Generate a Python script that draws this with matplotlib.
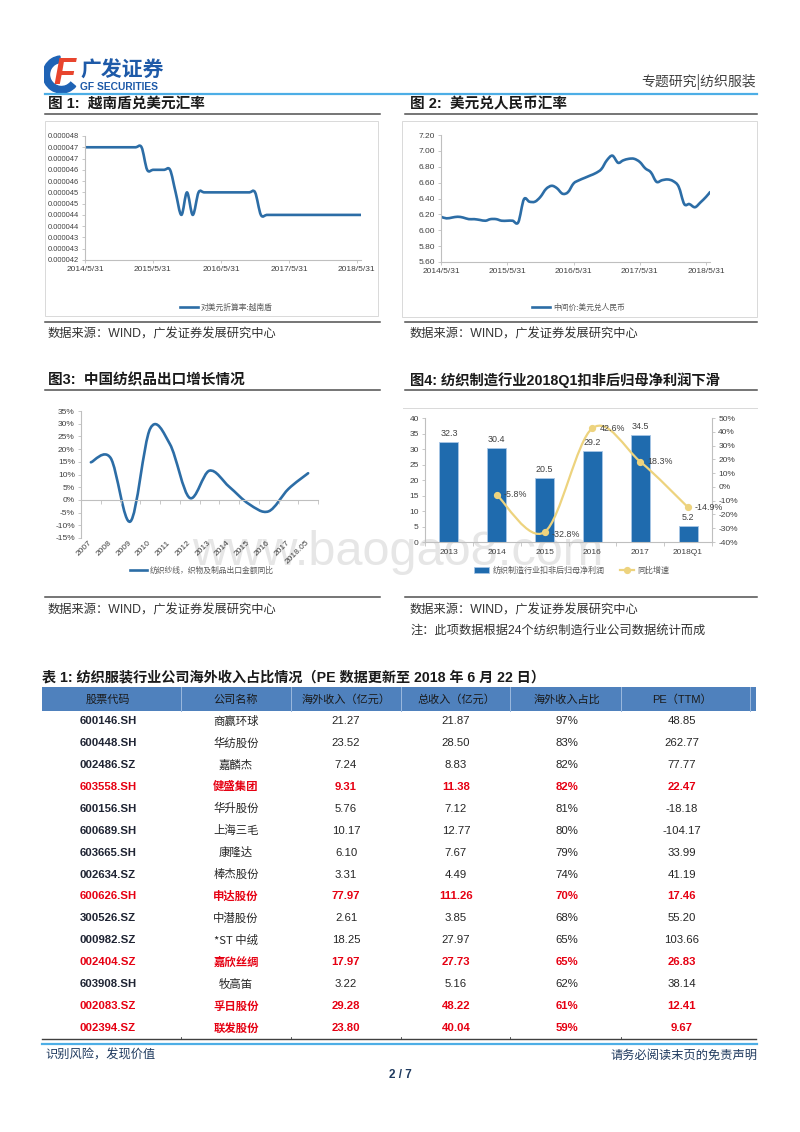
import numpy as np
import pandas as pd
import matplotlib
matplotlib.use('Agg')
import matplotlib.pyplot as plt
from matplotlib.path import Path
from matplotlib.patches import PathPatch, Rectangle, Wedge
from matplotlib.lines import Line2D
from matplotlib.ticker import FuncFormatter
import matplotlib.dates as mdates

plt.rcParams['font.family'] = ['Liberation Sans', 'Noto Sans CJK SC', 'DejaVu Sans']

# ---------------- data ----------------
# Fig 1: VND -> USD conversion rate, month ends May-2014 .. May-2018 plus 2018-06-22
vnd_usd = [4.70e-5, 4.70e-5, 4.70e-5, 4.70e-5, 4.70e-5, 4.70e-5, 4.70e-5, 4.70e-5,
           4.70e-5, 4.70e-5, 4.70e-5,
           4.60e-5, 4.60e-5, 4.60e-5, 4.60e-5, 4.60e-5,
           4.50e-5, 4.40e-5, 4.50e-5, 4.40e-5,
           4.50e-5, 4.50e-5, 4.50e-5, 4.50e-5, 4.50e-5, 4.50e-5, 4.50e-5, 4.50e-5,
           4.50e-5, 4.50e-5, 4.50e-5,
           4.40e-5, 4.40e-5, 4.40e-5, 4.40e-5, 4.40e-5, 4.40e-5, 4.40e-5, 4.40e-5,
           4.40e-5, 4.40e-5, 4.40e-5, 4.40e-5, 4.40e-5, 4.40e-5, 4.40e-5, 4.40e-5,
           4.40e-5, 4.40e-5, 4.40e-5]
vnd_ticklabels = ['0.000042', '0.000043', '0.000043', '0.000044', '0.000044', '0.000045',
                  '0.000045', '0.000046', '0.000046', '0.000047', '0.000047', '0.000048']
vnd_legend = '对美元折算率:越南盾'

# Fig 2: USD/CNY central parity, same dates
usd_cny = [6.17, 6.15, 6.16, 6.17, 6.16, 6.14, 6.14, 6.13, 6.12, 6.14,
           6.14, 6.12, 6.12, 6.12, 6.10, 6.39, 6.36, 6.36, 6.42, 6.52,
           6.56, 6.53, 6.46, 6.48, 6.59, 6.63, 6.66, 6.69, 6.72, 6.77,
           6.88, 6.94, 6.85, 6.88, 6.90, 6.90, 6.86, 6.78, 6.73, 6.61,
           6.63, 6.64, 6.62, 6.55, 6.33, 6.33, 6.29, 6.35, 6.42, 6.48]
cny_legend = '中间价:美元兑人民币'

date_tick_dates = ['2014-05-31', '2015-05-31', '2016-05-31', '2017-05-31', '2018-05-31']
date_tick_labels = ['2014/5/31', '2015/5/31', '2016/5/31', '2017/5/31', '2018/5/31']

# Fig 3: China textile export growth (%)
exp_years = ['2007', '2008', '2009', '2010', '2011', '2012', '2013', '2014',
             '2015', '2016', '2017', '2018.05']
exp_growth = [14.8, 16.5, -8.5, 28.0, 22.0, 0.8, 11.5, 5.2, -1.6, -4.5, 4.3, 10.5]
exp_legend = '纺织纱线，织物及制品出口金额同比'

# Fig 4: textile manufacturing net profit (bn yuan) and YoY growth (%)
prof_years = ['2013', '2014', '2015', '2016', '2017', '2018Q1']
prof_values = [32.3, 30.4, 20.5, 29.2, 34.5, 5.2]
growth_years = ['2014', '2015', '2016', '2017', '2018Q1']
growth_values = [-5.8, -32.8, 42.6, 18.3, -14.9]
prof_legend = '纺织制造行业扣非后归母净利润'
growth_legend = '同比增速'

# Table 1
tbl_header = ['股票代码', '公司名称', '海外收入（亿元）', '总收入（亿元）', '海外收入占比', 'PE（TTM）']
tbl_codes = ['600146.SH', '600448.SH', '002486.SZ', '603558.SH', '600156.SH', '600689.SH',
             '603665.SH', '002634.SZ', '600626.SH', '300526.SZ', '000982.SZ', '002404.SZ',
             '603908.SH', '002083.SZ', '002394.SZ']
tbl_names = ['商赢环球', '华纺股份', '嘉麟杰', '健盛集团', '华升股份', '上海三毛', '康隆达',
             '棒杰股份', '申达股份', '中潜股份', '*ST 中绒', '嘉欣丝绸', '牧高笛', '孚日股份',
             '联发股份']
tbl_overseas = [21.27, 23.52, 7.24, 9.31, 5.76, 10.17, 6.10, 3.31, 77.97, 2.61, 18.25,
                17.97, 3.22, 29.28, 23.80]
tbl_total = [21.87, 28.50, 8.83, 11.38, 7.12, 12.77, 7.67, 4.49, 111.26, 3.85, 27.97,
             27.73, 5.16, 48.22, 40.04]
tbl_share = ['97%', '83%', '82%', '82%', '81%', '80%', '79%', '74%', '70%', '68%', '65%',
             '65%', '62%', '61%', '59%']
tbl_pe = [48.85, 262.77, 77.77, 22.47, -18.18, -104.17, 33.99, 41.19, 17.46, 55.20, 103.66,
          26.83, 38.14, 12.41, 9.67]
tbl_highlight = [False, False, False, True, False, False, False, False, True, False, False,
                 True, False, True, True]

# ---------------- helpers ----------------
W, H = 800, 1132
fig = plt.figure(figsize=(8, 11.32), dpi=100)
fig.patch.set_facecolor('white')

CJK = ['Noto Sans CJK SC', 'DejaVu Sans']
MIX = ['Liberation Sans', 'Noto Sans CJK SC', 'DejaVu Sans']
LINE_BLUE = '#2C6DA6'
AX_GRAY = '#BFBFBF'
TICK_TXT = '#404040'
BAR_BLUE = '#1F6BAE'
GOLD = '#EDD37E'
NAVY = '#1F3A5F'
TICK_SIZE = 6


def fx(x):
    return x / W


def fy(y):
    return 1 - y / H


def add_axes(l, t, r, b):
    return fig.add_axes([fx(l), fy(b), (r - l) / W, (b - t) / H])


def hline(x0, x1, y, color, lw, z=2):
    fig.add_artist(Line2D([fx(x0), fx(x1)], [fy(y), fy(y)], color=color, lw=lw,
                          transform=fig.transFigure, zorder=z))


def vline(x, y0, y1, color, lw, z=2):
    fig.add_artist(Line2D([fx(x), fx(x)], [fy(y0), fy(y1)], color=color, lw=lw,
                          transform=fig.transFigure, zorder=z))


def frame(l, t, r, b, color='#D9D9D9', lw=0.7):
    fig.add_artist(Rectangle((fx(l), fy(b)), (r - l) / W, (b - t) / H, fill=False,
                             ec=color, lw=lw, transform=fig.transFigure))


def txt(x, y, s, **kw):
    kw.setdefault('va', 'center')
    kw.setdefault('family', MIX)
    return fig.text(fx(x), fy(y), s, **kw)


def smooth_path(x, y):
    x = np.asarray(x, float)
    y = np.asarray(y, float)
    n = len(x)
    verts = [(x[0], y[0])]
    codes = [Path.MOVETO]
    for i in range(n - 1):
        i0 = max(i - 1, 0)
        i3 = min(i + 2, n - 1)
        c1 = (x[i] + (x[i + 1] - x[i0]) / 6.0, y[i] + (y[i + 1] - y[i0]) / 6.0)
        c2 = (x[i + 1] - (x[i3] - x[i]) / 6.0, y[i + 1] - (y[i3] - y[i]) / 6.0)
        verts += [c1, c2, (x[i + 1], y[i + 1])]
        codes += [Path.CURVE4] * 3
    return Path(verts, codes)


def smooth_line(ax, x, y, **kw):
    p = PathPatch(smooth_path(x, y), fill=False, **kw)
    ax.add_patch(p)
    return p


def style_axes(ax):
    ax.set_facecolor('none')
    for s in ['top', 'right']:
        ax.spines[s].set_visible(False)
    for s in ['left', 'bottom']:
        ax.spines[s].set_color(AX_GRAY)
        ax.spines[s].set_linewidth(0.8)
    ax.tick_params(colors=AX_GRAY, labelcolor=TICK_TXT, labelsize=TICK_SIZE, length=2.5,
                   width=0.6, direction='out', pad=2)


def month_dates():
    try:
        d = pd.date_range('2014-05-31', '2018-05-31', freq='ME')
    except Exception:
        d = pd.date_range('2014-05-31', '2018-05-31', freq='M')
    return list(d) + [pd.Timestamp('2018-06-22')]


# ---------------- page header ----------------
logo = add_axes(44, 55, 80, 94)
logo.set_xlim(0, 36)
logo.set_ylim(0, 39)
logo.axis('off')
logo.add_patch(Wedge((17.5, 19.5), 18.5, 95, 320, width=6.5, color='#1F63B5'))
logo.text(20, 19, 'F', fontsize=26, fontweight='bold', style='italic', color='#E8452E',
          ha='center', va='center', family='Liberation Sans')
txt(80, 70, '广发证券', fontsize=15, fontweight='bold', color='#1E5AA8', family=CJK)
txt(80.5, 87.5, 'GF SECURITIES', fontsize=7.4, fontweight='bold', color='#1E5AA8')
txt(756, 82, '专题研究|纺织服装', fontsize=10, color='#404040', ha='right', family=CJK)
hline(45, 757, 94, '#4DAEE6', 1.6)

# ---------------- figure titles ----------------
TITLE_KW = dict(fontsize=10.5, fontweight='bold', color='#1a1a1a')
txt(48, 104, '图 1:  越南盾兑美元汇率', **TITLE_KW)
txt(410, 104, '图 2:  美元兑人民币汇率', **TITLE_KW)
hline(45, 380, 114, '#505050', 1.1)
hline(405, 757, 114, '#505050', 1.1)
frame(45, 121, 378, 316)
frame(402, 121, 757, 317)
hline(45, 380, 322, '#505050', 1.1)
hline(405, 757, 322, '#505050', 1.1)
SRC_KW = dict(fontsize=8.8, color='#333333')
txt(48, 334, '数据来源：WIND，广发证券发展研究中心', **SRC_KW)
txt(410, 334, '数据来源：WIND，广发证券发展研究中心', **SRC_KW)

txt(48, 380, '图3:  中国纺织品出口增长情况', **TITLE_KW)
txt(410, 380, '图4: 纺织制造行业2018Q1扣非后归母净利润下滑', fontsize=10.3,
    fontweight='bold', color='#1a1a1a')
hline(45, 380, 390, '#505050', 1.1)
hline(405, 757, 390, '#505050', 1.1)
hline(403, 757, 408, '#D9D9D9', 0.7)
hline(45, 380, 597, '#505050', 1.1)
hline(405, 757, 597, '#505050', 1.1)
txt(48, 610, '数据来源：WIND，广发证券发展研究中心', **SRC_KW)
txt(410, 610, '数据来源：WIND，广发证券发展研究中心', **SRC_KW)
txt(410, 632, '注：此项数据根据24个纺织制造行业公司数据统计而成', **SRC_KW)

# watermark
fig.text(fx(192), fy(565), 'www.baogao8.com', fontsize=35, color='#E6E6E6',
         family='Liberation Sans', va='baseline', ha='left', zorder=-1)

dates = month_dates()
xd = mdates.date2num(dates)
xt = mdates.date2num(pd.to_datetime(date_tick_dates))

# ---------------- chart 1 ----------------
ax1 = add_axes(85, 136, 361, 260)
style_axes(ax1)
smooth_line(ax1, xd, vnd_usd, ec=LINE_BLUE, lw=1.9, capstyle='round', joinstyle='round')
ax1.set_xlim(xd[0], xd[-1])
ax1.set_ylim(4.2e-5, 4.75e-5)
ax1.set_yticks(np.linspace(4.2e-5, 4.75e-5, len(vnd_ticklabels)))
ax1.set_yticklabels(vnd_ticklabels)
ax1.tick_params(axis='y', labelsize=5.4, pad=2)
ax1.set_xticks(xt)
ax1.set_xticklabels(date_tick_labels)
fig.legend(handles=[Line2D([], [], color=LINE_BLUE, lw=1.9)], labels=[vnd_legend],
           loc='center left', bbox_to_anchor=(fx(180), fy(308)), frameon=False,
           prop={'family': CJK, 'size': 5.6}, handlelength=2.3, handletextpad=0.4,
           borderpad=0, borderaxespad=0, labelcolor='#595959')

# ---------------- chart 2 ----------------
ax2 = add_axes(441, 135, 710, 262)
style_axes(ax2)
smooth_line(ax2, xd, usd_cny, ec=LINE_BLUE, lw=1.9, capstyle='round', joinstyle='round')
ax2.set_xlim(xd[0], xd[-1])
ax2.set_ylim(5.6, 7.2)
ax2.set_yticks(np.arange(5.6, 7.21, 0.2))
ax2.yaxis.set_major_formatter(FuncFormatter(lambda v, p: f'{v:.2f}'))
ax2.set_xticks(xt)
ax2.set_xticklabels(date_tick_labels)
fig.legend(handles=[Line2D([], [], color=LINE_BLUE, lw=1.9)], labels=[cny_legend],
           loc='center left', bbox_to_anchor=(fx(532), fy(308)), frameon=False,
           prop={'family': CJK, 'size': 5.6}, handlelength=2.3, handletextpad=0.4,
           borderpad=0, borderaxespad=0, labelcolor='#595959')

# ---------------- chart 3 ----------------
ax3 = add_axes(81, 411, 318, 538)
style_axes(ax3)
xs3 = np.arange(len(exp_years))
smooth_line(ax3, xs3, exp_growth, ec=LINE_BLUE, lw=1.9, capstyle='round', joinstyle='round')
ax3.set_xlim(-0.5, len(exp_years) - 0.5)
ax3.set_ylim(-15, 35)
ax3.set_yticks(np.arange(-15, 36, 5))
ax3.yaxis.set_major_formatter(FuncFormatter(lambda v, p: f'{v:.0f}%'))
ax3.spines['bottom'].set_position(('data', 0))
ax3.set_xticks(xs3)
ax3.set_xticklabels(exp_years, rotation=45, ha='right', va='center', rotation_mode='anchor')
ax3.set_xticks(np.arange(-0.5, len(exp_years), 1), minor=True)
ax3.tick_params(axis='x', which='major', length=0, pad=30)
ax3.tick_params(axis='x', which='minor', length=3, color=AX_GRAY, width=0.6)
fig.legend(handles=[Line2D([], [], color=LINE_BLUE, lw=1.9)], labels=[exp_legend],
           loc='center left', bbox_to_anchor=(fx(130), fy(571)), frameon=False,
           prop={'family': CJK, 'size': 5.6}, handlelength=2.2, handletextpad=0.4,
           borderpad=0, borderaxespad=0, labelcolor='#595959')

# ---------------- chart 4 ----------------
ax4 = add_axes(425, 418, 712, 542)
style_axes(ax4)
xs4 = np.arange(len(prof_years))
ax4.bar(xs4, prof_values, width=0.4, color=BAR_BLUE, edgecolor='#A8C6E6', linewidth=0.6,
        zorder=2)
for xv, v in zip(xs4, prof_values):
    ax4.annotate(f'{v:.1f}', (xv, v), xytext=(0, 3), textcoords='offset points',
                 ha='center', va='bottom', fontsize=6.4, color='#404040')
ax4.set_xlim(-0.5, len(prof_years) - 0.5)
ax4.set_ylim(0, 40)
ax4.set_yticks(np.arange(0, 41, 5))
ax4.set_xticks(xs4)
ax4.set_xticklabels(prof_years)
ax4.set_xticks(np.arange(-0.5, len(prof_years), 1), minor=True)
ax4.tick_params(axis='x', which='major', length=0, pad=5)
ax4.tick_params(axis='x', which='minor', length=3, color=AX_GRAY, width=0.6)

ax4r = ax4.twinx()
ax4r.set_facecolor('none')
for s in ['top', 'left', 'bottom']:
    ax4r.spines[s].set_visible(False)
ax4r.spines['right'].set_color(AX_GRAY)
ax4r.spines['right'].set_linewidth(0.8)
ax4r.tick_params(colors=AX_GRAY, labelcolor=TICK_TXT, labelsize=TICK_SIZE, length=2.5,
                 width=0.6, direction='out', pad=2)
gx = [prof_years.index(g) for g in growth_years]
smooth_line(ax4r, gx, growth_values, ec=GOLD, lw=1.6, zorder=3)
ax4r.plot(gx, growth_values, 'o', color=GOLD, ms=4.2, zorder=4)
for xv, v in zip(gx, growth_values):
    dy = -2 if v < -30 else 0
    ax4r.annotate(f'{v:.1f}%', (xv, v), xytext=(5, dy), textcoords='offset points',
                  ha='left', va='center', fontsize=6.4, color='#404040', zorder=5)
ax4r.set_ylim(-40, 50)
ax4r.set_yticks(np.arange(-40, 51, 10))
ax4r.yaxis.set_major_formatter(FuncFormatter(lambda v, p: f'{v:.0f}%'))
ax4r.set_xlim(-0.5, len(prof_years) - 0.5)

fig.legend(handles=[Rectangle((0, 0), 1, 1, fc=BAR_BLUE, ec='#A8C6E6', lw=0.5)],
           labels=[prof_legend], loc='center left', bbox_to_anchor=(fx(474), fy(570)),
           frameon=False, prop={'family': CJK, 'size': 5.8}, handlelength=1.9,
           handleheight=0.8, handletextpad=0.4, borderpad=0, borderaxespad=0,
           labelcolor='#595959')
fig.legend(handles=[Line2D([], [], color=GOLD, lw=1.6, marker='o', ms=4.2)],
           labels=[growth_legend], loc='center left', bbox_to_anchor=(fx(620), fy(570)),
           frameon=False, prop={'family': CJK, 'size': 5.8}, handlelength=1.7,
           handletextpad=0.4, borderpad=0, borderaxespad=0, labelcolor='#595959')

# ---------------- table ----------------
txt(42, 677, '表 1: 纺织服装行业公司海外收入占比情况（PE 数据更新至 2018 年 6 月 22 日）',
    fontsize=10.2, fontweight='bold', color='#1a1a1a')
fig.add_artist(Rectangle((fx(42), fy(711)), (756 - 42) / W, (711 - 687) / H,
                         fc='#4F81BD', ec='none', transform=fig.transFigure))
col_x = [108, 236, 346, 456, 567, 682]
col_sep = [181, 291, 401, 510, 621, 750]
for xs_ in col_sep:
    vline(xs_, 687, 711, '#9CB9DD', 0.7)
for cx, h in zip(col_x, tbl_header):
    txt(cx, 699.5, h, fontsize=8, color='#1a1a1a', ha='center')

row_y0, row_dy = 721.0, 21.93
for i in range(len(tbl_codes)):
    y = row_y0 + i * row_dy
    red = tbl_highlight[i]
    c_num = '#E60012' if red else '#262626'
    c_code = '#E60012' if red else '#1F2433'
    w_num = 'bold' if red else 'normal'
    txt(col_x[0], y, tbl_codes[i], fontsize=8.2, fontweight='bold', color=c_code, ha='center')
    txt(col_x[1], y, tbl_names[i], fontsize=8.2, fontweight=w_num, color=c_num, ha='center',
        family=['Noto Sans CJK SC', 'Liberation Sans'])
    txt(col_x[2], y, f'{tbl_overseas[i]:.2f}', fontsize=8.2, fontweight=w_num, color=c_num,
        ha='center')
    txt(col_x[3], y, f'{tbl_total[i]:.2f}', fontsize=8.2, fontweight=w_num, color=c_num,
        ha='center')
    txt(col_x[4], y, tbl_share[i], fontsize=8.2, fontweight=w_num, color=c_num, ha='center')
    txt(col_x[5], y, f'{tbl_pe[i]:.2f}', fontsize=8.2, fontweight=w_num, color=c_num,
        ha='center')

hline(42, 756, 1039, '#404040', 1.0)
for xs_ in col_sep[:-1]:
    vline(xs_, 1036.5, 1039, '#404040', 0.6)
hline(42, 757, 1044, '#4DAEE6', 1.6)

# ---------------- footer ----------------
txt(45, 1055, '识别风险，发现价值', fontsize=8.8, color=NAVY, family=CJK)
txt(757, 1055, '请务必阅读末页的免责声明', fontsize=8.8, color=NAVY, ha='right', family=CJK)
txt(400, 1075, '2 / 7', fontsize=8.5, fontweight='bold', color=NAVY, ha='center')

fig.savefig('out.png', dpi=100, facecolor='white')
